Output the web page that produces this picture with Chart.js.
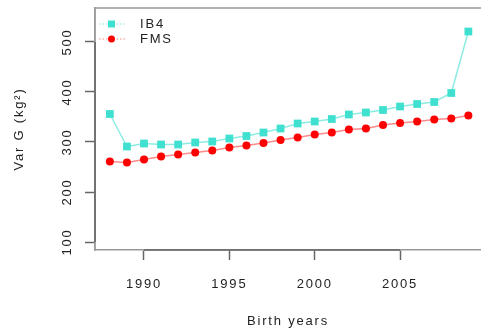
<!DOCTYPE html>
<html>
<head>
<meta charset="utf-8">
<script src="https://cdn.jsdelivr.net/npm/chart.js@4.4.3/dist/chart.umd.min.js"></script>
<style>
  html, body { margin: 0; padding: 0; background: #fff; }
  #wrap { width: 481px; height: 329px; }
</style>
</head>
<body>
<div id="wrap"><canvas id="chart" width="481" height="329"></canvas></div>
<script>
const years = [1988, 1989, 1990, 1991, 1992, 1993, 1994, 1995, 1996, 1997, 1998,
  1999, 2000, 2001, 2002, 2003, 2004, 2005, 2006, 2007, 2008, 2009];
const ib4 = [356, 291, 297, 295, 295, 299, 301, 307, 312, 319, 327,
  337, 341, 346, 355, 359, 364, 371, 376, 380, 398, 521];
const fms = [261, 259, 265, 271, 275, 279, 283, 289, 293, 298, 304,
  309, 315, 319, 325, 327, 334, 338, 341, 345, 347, 353];
const xTicks = [1990, 1995, 2000, 2005];
const yTicks = [100, 200, 300, 400, 500];

const font = "'Liberation Sans', Arial, sans-serif";
const textColor = '#222';
const boxColor = '#999';
const axisColor = '#666';
const spacing = '1.8px';

// R-style box (top + left), axis segments, rotated y labels and the legend
const rStyle = {
  id: 'rStyle',
  beforeDraw(chart) {
    chart.ctx.letterSpacing = spacing;
  },
  afterDraw(chart) {
    const { ctx, chartArea: a } = chart;
    const xs = chart.scales.x, ys = chart.scales.y;
    ctx.save();
    ctx.letterSpacing = spacing;
    ctx.strokeStyle = boxColor;
    ctx.lineWidth = 1.5;
    ctx.beginPath();
    ctx.moveTo(chart.width, a.top);
    ctx.lineTo(a.left, a.top);
    ctx.lineTo(a.left, a.bottom);
    ctx.stroke();

    // darker axis segments between first and last tick
    ctx.strokeStyle = axisColor;
    ctx.beginPath();
    ctx.moveTo(xs.getPixelForValue(xTicks[0]), a.bottom);
    ctx.lineTo(xs.getPixelForValue(xTicks[xTicks.length - 1]), a.bottom);
    ctx.moveTo(a.left, ys.getPixelForValue(yTicks[0]));
    ctx.lineTo(a.left, ys.getPixelForValue(yTicks[yTicks.length - 1]));
    ctx.stroke();

    ctx.font = '13px ' + font;
    ctx.fillStyle = textColor;
    ctx.textAlign = 'center';
    ctx.textBaseline = 'middle';
    yTicks.forEach(v => {
      ctx.save();
      ctx.translate(67.5, ys.getPixelForValue(v));
      ctx.rotate(-Math.PI / 2);
      ctx.fillText(String(v), 0, 0);
      ctx.restore();
    });

    chart.data.datasets.forEach((ds, i) => {
      const y = a.top + 16 + i * 15;
      ctx.strokeStyle = ds.borderColor;
      ctx.lineWidth = 1;
      ctx.setLineDash([1.5, 2]);
      ctx.beginPath();
      ctx.moveTo(a.left + 4, y);
      ctx.lineTo(a.left + 30, y);
      ctx.stroke();
      ctx.setLineDash([]);
      ctx.fillStyle = ds.pointBackgroundColor;
      if (ds.pointStyle === 'rect') {
        ctx.fillRect(a.left + 13, y - 3.5, 7, 7);
      } else {
        ctx.beginPath();
        ctx.arc(a.left + 16.5, y, 3.5, 0, Math.PI * 2);
        ctx.fill();
      }
      ctx.fillStyle = textColor;
      ctx.textAlign = 'left';
      ctx.fillText(ds.label, a.left + 45, y);
    });
    ctx.restore();
  }
};

new Chart(document.getElementById('chart'), {
  type: 'line',
  data: {
    datasets: [{
      label: 'IB4',
      data: years.map((y, i) => ({ x: y, y: ib4[i] })),
      borderColor: 'rgba(64, 224, 208, 0.6)',
      backgroundColor: '#40E0D0',
      pointBackgroundColor: '#40E0D0',
      pointBorderWidth: 0,
      pointStyle: 'rect',
      pointRadius: 5.5,
      borderWidth: 1.5,
      tension: 0
    }, {
      label: 'FMS',
      data: years.map((y, i) => ({ x: y, y: fms[i] })),
      borderColor: 'rgba(255, 60, 60, 0.6)',
      backgroundColor: '#ff0000',
      pointBackgroundColor: '#ff0000',
      pointBorderWidth: 0,
      pointStyle: 'circle',
      pointRadius: 4,
      borderWidth: 1.5,
      tension: 0
    }]
  },
  options: {
    responsive: false,
    animation: false,
    layout: { autoPadding: false, padding: { top: 8, right: 0, left: 0, bottom: 0 } },
    plugins: {
      legend: { display: false },
      tooltip: { enabled: false }
    },
    scales: {
      x: {
        type: 'linear',
        min: 1987.13,
        max: 2009.74,
        afterBuildTicks: axis => { axis.ticks = xTicks.map(v => ({ value: v })); },
        afterFit: axis => { axis.height = 79; },
        grid: { drawOnChartArea: false, color: axisColor, tickLength: 10, tickWidth: 1.5 },
        border: { color: boxColor, width: 1.5 },
        ticks: { color: textColor, font: { family: font, size: 13 }, padding: 17, maxRotation: 0,
          callback: v => String(v) },
        title: { display: true, text: 'Birth years', color: textColor,
          font: { family: font, size: 13 }, padding: { top: 14, bottom: 0 } }
      },
      y: {
        min: 84,
        max: 568,
        afterBuildTicks: axis => { axis.ticks = yTicks.map(v => ({ value: v })); },
        afterFit: axis => { axis.width = 95; },
        grid: { drawOnChartArea: false, color: axisColor, tickLength: 10, tickWidth: 1.5 },
        border: { color: boxColor, width: 1.5 },
        ticks: { display: false },
        title: { display: true, text: 'Var G (kg\u00B2)', color: textColor,
          font: { family: font, size: 13 }, padding: { top: 12, bottom: 0 } }
      }
    }
  },
  plugins: [rStyle]
});
</script>
</body>
</html>
